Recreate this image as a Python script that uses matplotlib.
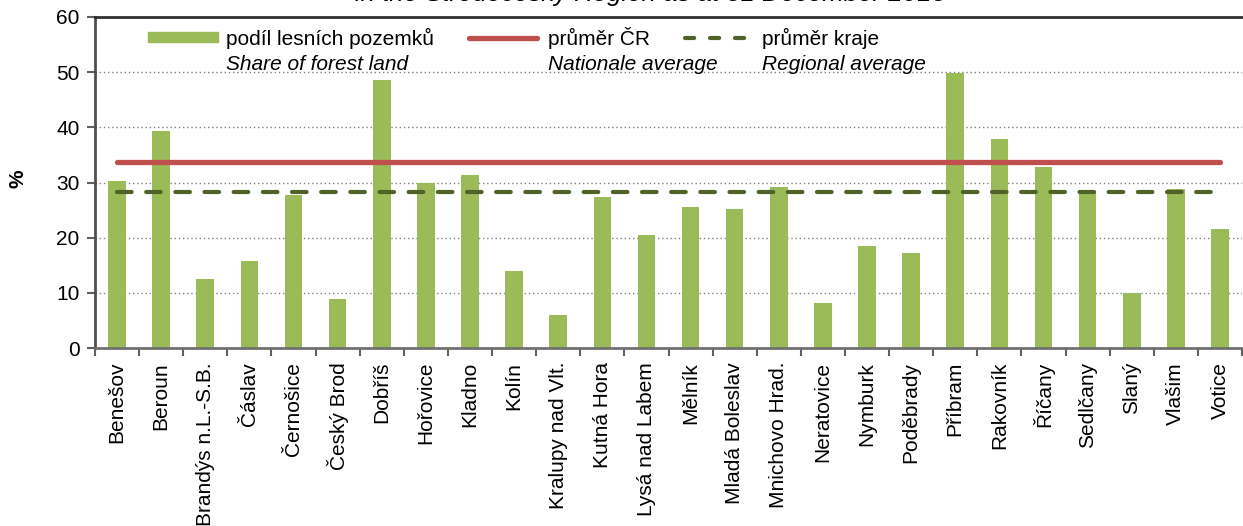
import matplotlib
matplotlib.use("Agg")
import matplotlib.pyplot as plt
import numpy as np
from matplotlib.lines import Line2D
from matplotlib.patches import Rectangle

plt.rcParams['font.family'] = ['Liberation Sans', 'DejaVu Sans']

categories = ["Benešov", "Beroun", "Brandýs n.L.-S.B.", "Čáslav", "Černošice", "Český Brod",
              "Dobříš", "Hořovice", "Kladno", "Kolín", "Kralupy nad Vlt.", "Kutná Hora",
              "Lysá nad Labem", "Mělník", "Mladá Boleslav", "Mnichovo Hrad.", "Neratovice",
              "Nymburk", "Poděbrady", "Příbram", "Rakovník", "Říčany", "Sedlčany", "Slaný",
              "Vlašim", "Votice"]
forest_share = [30.3, 39.4, 12.5, 15.8, 27.8, 8.9, 48.5, 30.0, 31.4, 14.0, 6.0, 27.4,
                20.5, 25.6, 25.2, 29.2, 8.2, 18.4, 17.3, 49.9, 37.9, 32.8, 28.5, 10.0,
                28.9, 21.6]
national_avg = 33.8
regional_avg = 28.2
yticks = [0, 10, 20, 30, 40, 50, 60]

W, H = 1243, 526
fig = plt.figure(figsize=(W / 100, H / 100), dpi=100)
ax = fig.add_axes([95 / W, 1 - 348 / H, (1242 - 95) / W, (348 - 17) / H])

n = len(categories)
x = np.arange(n)
green = "#9BBB59"
red = "#C0504D"
dark = "#4F6228"
FS = 15

ax.bar(x, forest_share, width=0.4, color=green, zorder=2)
ax.plot([x[0], x[-1]], [national_avg] * 2, color=red, lw=3.8, solid_capstyle='round', zorder=3)
ax.plot([x[0], x[-1]], [regional_avg] * 2, color=dark, lw=3.0, dashes=(3.5, 3.5),
        dash_capstyle='round', zorder=4)

ax.set_xlim(-0.5, n - 0.5)
ax.set_ylim(0, 60)
ax.set_yticks(yticks)
ax.set_yticklabels([str(v) for v in yticks], fontsize=FS)
for v in yticks[1:-1]:
    ax.axhline(v, color="#808080", lw=1.0, ls=(0, (1, 2)), zorder=1)

ax.set_xticks(x)
ax.set_xticklabels(categories, rotation=90, fontsize=FS, va='top', ha='center')
ax.set_xticks(np.arange(n + 1) - 0.5, minor=True)
ax.tick_params(axis='x', which='major', length=0, pad=10)
ax.tick_params(axis='x', which='minor', length=6, width=1.5, color="#606060", direction='out')
ax.tick_params(axis='y', length=6, width=1.5, color="#606060", direction='out', pad=5)

ax.spines['right'].set_visible(False)
ax.spines['left'].set_color("#505050")
ax.spines['left'].set_linewidth(2)
ax.spines['bottom'].set_color("#707070")
ax.spines['bottom'].set_linewidth(2)
ax.spines['top'].set_color("#303030")
ax.spines['top'].set_linewidth(2)

ax.set_ylabel("%", fontsize=FS, fontweight='bold')
ax.yaxis.set_label_coords((28 - 95) / 1147, (348 - 179) / 331)


def fx(px):
    return px / W


def fy(py):
    return 1 - py / H


# legend (manual)
fig.patches.append(Rectangle((fx(148), fy(42)), fx(70), 10 / H, transform=fig.transFigure,
                             color=green, zorder=5))
fig.lines.append(Line2D([fx(469), fx(537)], [fy(38), fy(38)], transform=fig.transFigure,
                        color=red, lw=3.8, solid_capstyle='round'))
fig.lines.append(Line2D([fx(685), fx(752)], [fy(38), fy(38)], transform=fig.transFigure,
                        color=dark, lw=3.0, dashes=(2.2, 3.8), dash_capstyle='round'))
labels_cz = [("podíl lesních pozemků", 226), ("průměr ČR", 548), ("průměr kraje", 762)]
labels_en = [("Share of forest land", 226), ("Nationale average", 548), ("Regional average", 762)]
for t, px in labels_cz:
    fig.text(fx(px), fy(45), t, fontsize=FS, va='baseline', ha='left')
for t, px in labels_en:
    fig.text(fx(px), fy(70), t, fontsize=FS, va='baseline', ha='left', style='italic')

fig.text(fx(650), fy(1), "in the Středočeský Region as at 31 December 2013", fontsize=18.5,
         style='italic', ha='center', va='baseline')

fig.savefig("out.png", dpi=100)
